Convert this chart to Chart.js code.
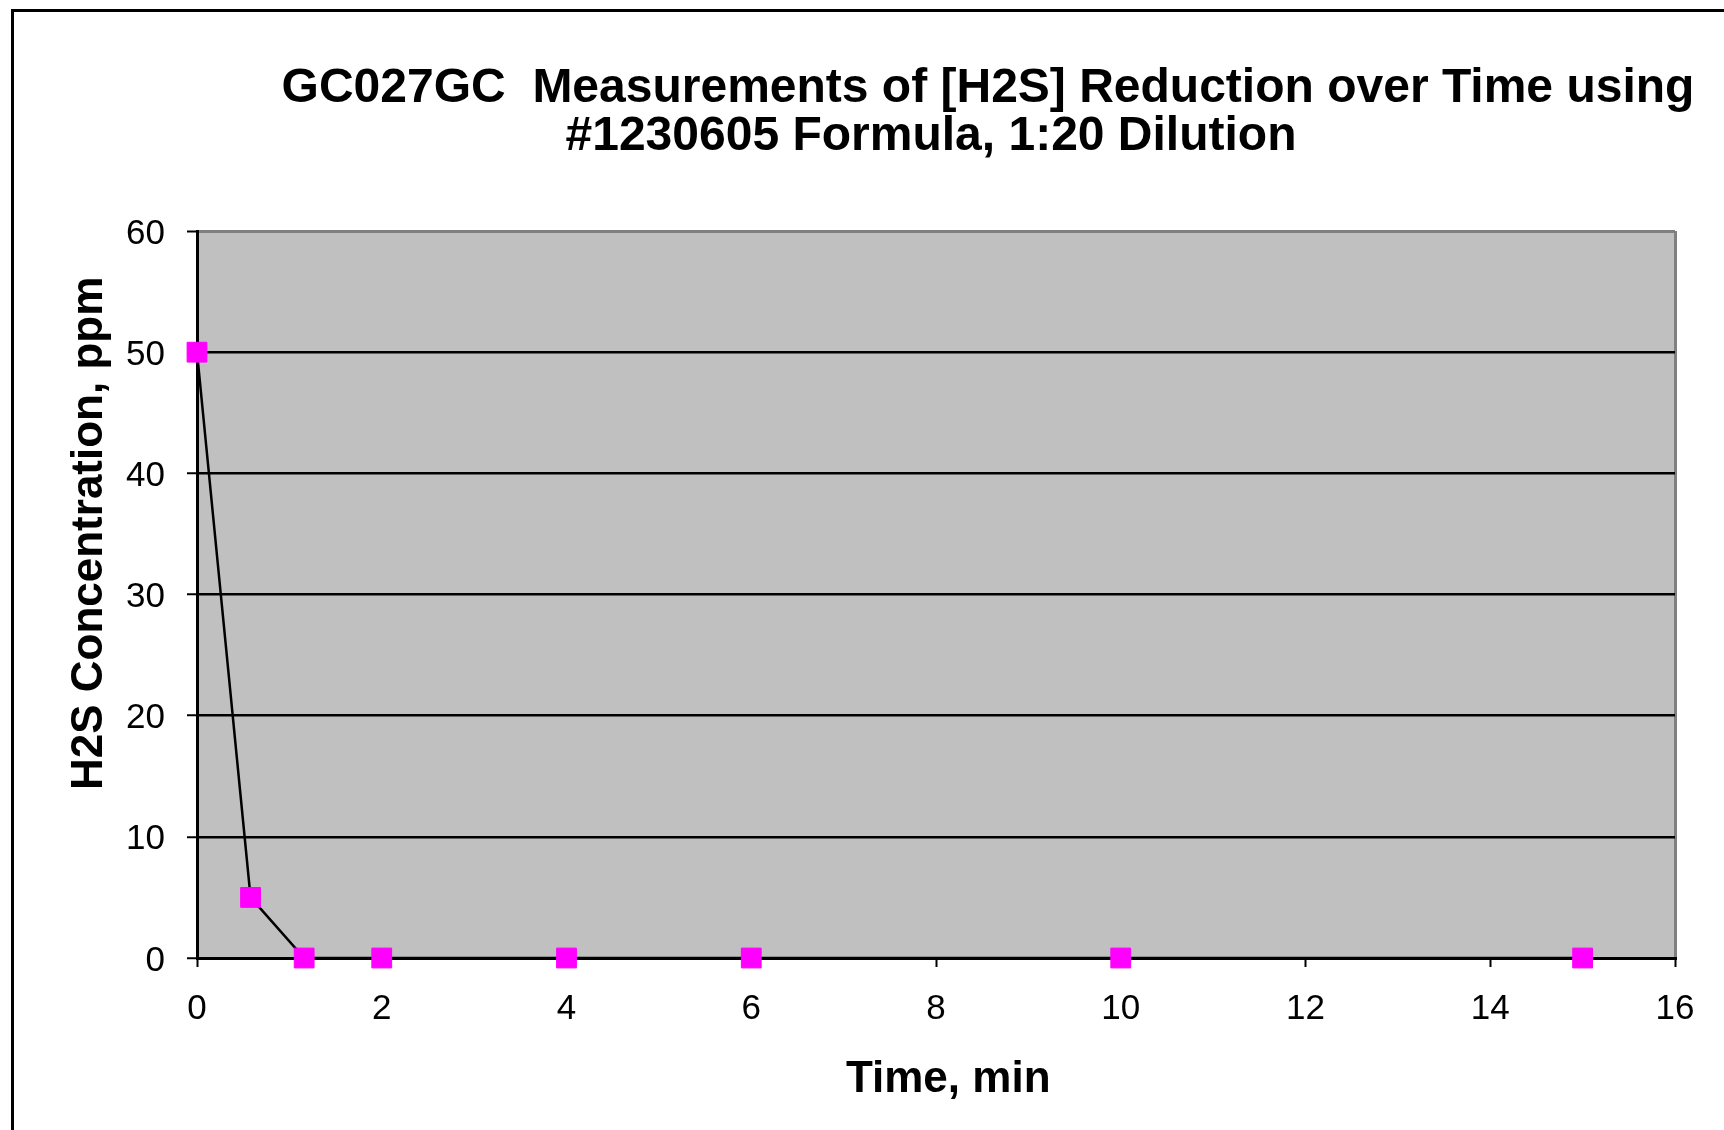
<!DOCTYPE html>
<html>
<head>
<meta charset="utf-8">
<title>H2S Reduction over Time</title>
<script src="https://cdn.jsdelivr.net/npm/chart.js@4/dist/chart.umd.min.js"></script>
<style>
    html, body { margin: 0; padding: 0; background: #fff; overflow: hidden; }
    #wrap { position: relative; width: 1724px; height: 1130px; }
    #frame {
        position: absolute; left: 11px; top: 9px; width: 1800px; height: 1200px;
        border-left: 3px solid #000; border-top: 3px solid #000; pointer-events: none;
    }
</style>
</head>
<body>
<div id="wrap">
    <canvas id="line-chart" width="1724" height="1130"></canvas>
    <div id="frame"></div>
</div>
<script>
// data
var timeMin = [0, 0.58, 1.16, 2, 4, 6, 10, 15];
var h2sPpm = [50, 5, 0, 0, 0, 0, 0, 0];
var titleLines = ["GC027GC  Measurements of [H2S] Reduction over Time using", "#1230605 Formula, 1:20 Dilution"];
var xTitle = "Time, min";
var yTitle = "H2S Concentration, ppm";

var FONT = "'Liberation Sans', Arial, sans-serif";

// grey plot area
var plotBg = {
    id: 'plotBg',
    beforeDraw: function(chart) {
        var a = chart.chartArea, ctx = chart.ctx;
        ctx.save();
        ctx.fillStyle = '#C0C0C0';
        ctx.fillRect(a.left, a.top, a.right - a.left, a.bottom - a.top);
        ctx.restore();
    }
};

// two-line title, the lines are not centred on the same point in the original
var chartTitle = {
    id: 'chartTitle',
    afterDraw: function(chart) {
        var ctx = chart.ctx;
        ctx.save();
        ctx.fillStyle = '#000';
        ctx.font = "bold 48px " + FONT;
        ctx.textAlign = 'center';
        ctx.textBaseline = 'middle';
        ctx.fillText(titleLines[0], 988, 89);
        ctx.fillText(titleLines[1], 931, 137);
        ctx.restore();
    }
};

new Chart(document.getElementById("line-chart"), {
    type: 'line',
    data: {
        datasets: [{
            label: "H2S",
            data: timeMin.map(function(t, i) { return { x: t, y: h2sPpm[i] }; }),
            borderColor: '#000',
            borderWidth: 2.5,
            pointStyle: 'rect',
            pointRadius: 14,
            pointHoverRadius: 14,
            pointBackgroundColor: '#FF00FF',
            pointBorderColor: '#FF00FF',
            pointBorderWidth: 1,
            tension: 0,
            clip: false
        }]
    },
    options: {
        responsive: false,
        animation: false,
        devicePixelRatio: 1,
        layout: { padding: { top: 231, right: 49, left: 0, bottom: 0 } },
        plugins: {
            legend: { display: false },
            title: { display: false },
            tooltip: { enabled: false }
        },
        scales: {
            x: {
                type: 'linear',
                min: 0,
                max: 16,
                afterFit: function(scale) { scale.height = 172; },
                ticks: { stepSize: 2, color: '#000', padding: 21, font: { family: FONT, size: 35 } },
                grid: {
                    color: function(c) { return c.tick && c.tick.value === 16 ? '#808080' : 'rgba(0,0,0,0)'; },
                    lineWidth: 3,
                    tickColor: '#000',
                    tickWidth: 2,
                    tickLength: 9
                },
                border: { color: '#000', width: 3 },
                title: {
                    display: true,
                    text: "  " + xTitle,
                    color: '#000',
                    padding: { top: 0, bottom: 24 },
                    font: { family: FONT, size: 44, weight: 'bold' }
                }
            },
            y: {
                min: 0,
                max: 60,
                afterFit: function(scale) { scale.width = 197; },
                ticks: { stepSize: 10, color: '#000', padding: 22, labelOffset: 3, font: { family: FONT, size: 35 } },
                grid: {
                    color: function(c) { return c.tick && c.tick.value === 60 ? '#808080' : '#000'; },
                    lineWidth: function(c) { return c.tick && c.tick.value === 60 ? 3 : 2.5; },
                    tickColor: '#000',
                    tickWidth: 2,
                    tickLength: 10
                },
                border: { color: '#000', width: 3 },
                title: {
                    display: true,
                    text: "          " + yTitle,
                    color: '#000',
                    padding: { top: 63, bottom: 0 },
                    font: { family: FONT, size: 44, weight: 'bold' }
                }
            }
        }
    },
    plugins: [plotBg, chartTitle]
});
</script>
</body>
</html>
